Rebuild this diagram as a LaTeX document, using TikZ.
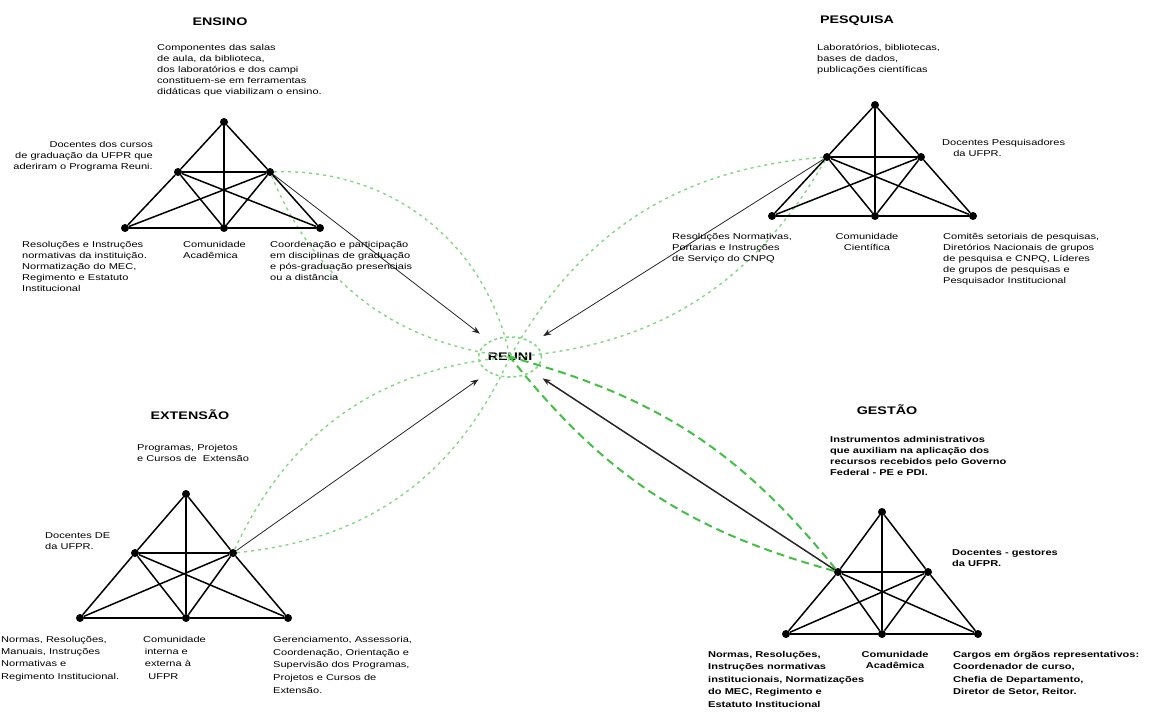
\documentclass[tikz,border=0pt]{standalone}
\usepackage{fontspec}
\newfontfamily\dgfont{Liberation Sans}[FakeStretch=1.3]
\usepackage{tikz}
\usetikzlibrary{arrows.meta,positioning,shapes.geometric}
\definecolor{lensgreen}{HTML}{80D880}
\definecolor{lensdark}{HTML}{44BE44}
\tikzset{
  vtx/.style={circle,fill=black,inner sep=0pt,minimum size=8pt},
  link/.style={line width=1.5pt,color=black},
  feed/.style={-{Stealth[length=8pt,width=6pt]},line width=0.8pt,color=black!85,shorten >=12pt},
  lens/.style={dash pattern=on 3pt off 4pt,line width=1.4pt,color=lensgreen},
  ttl/.style={font=\dgfont\bfseries\fontsize{11}{13}\selectfont,inner sep=0pt},
  lbl/.style={font=\dgfont\fontsize{8.5}{11}\selectfont,align=left,inner sep=0pt},
  blbl/.style={lbl,font=\dgfont\bfseries\fontsize{8.5}{11}\selectfont}}

\begin{document}
\begin{tikzpicture}[x=1pt,y=-1pt]
\useasboundingbox (0,0) rectangle (1149,712);

% ensino
\node[vtx] (en-ap) at (224,122) {};
\node[vtx] (en-lm) at (178,172) {};
\node[vtx] (en-rm) at (270,172) {};
\node[vtx] (en-bl) at (125,228) {};
\node[vtx] (en-bm) at (224,228) {};
\node[vtx] (en-br) at (320,228) {};
% pesquisa
\node[vtx] (pe-ap) at (875,105) {};
\node[vtx] (pe-lm) at (827,157) {};
\node[vtx] (pe-rm) at (921,157) {};
\node[vtx] (pe-bl) at (772,216) {};
\node[vtx] (pe-bm) at (875,216) {};
\node[vtx] (pe-br) at (973,216) {};
% extensao
\node[vtx] (ex-ap) at (186,494) {};
\node[vtx] (ex-lm) at (135,553) {};
\node[vtx] (ex-rm) at (233,553) {};
\node[vtx] (ex-bl) at (80,618) {};
\node[vtx] (ex-bm) at (186,618) {};
\node[vtx] (ex-br) at (288,618) {};
% gestao
\node[vtx] (ge-ap) at (882,512) {};
\node[vtx] (ge-lm) at (838,572) {};
\node[vtx] (ge-rm) at (928,572) {};
\node[vtx] (ge-bl) at (786,634) {};
\node[vtx] (ge-bm) at (882,634) {};
\node[vtx] (ge-br) at (978,634) {};

\node[ellipse,draw=lensgreen,dash pattern=on 3pt off 3pt,line width=1.6pt,minimum width=58pt,minimum height=40pt,inner sep=0pt,font=\dgfont\bfseries\fontsize{11}{13}\selectfont] (reuni) at (510,357) {REUNI};

% green lenses
\draw[lens] (en-rm) to[bend left=40] (reuni.center);
\draw[lens] (en-rm) to[bend right=30] (reuni.center);
\draw[lens] (pe-lm) to[bend left=28] (reuni.center);
\draw[lens] (pe-lm) to[bend right=28] (reuni.center);
\draw[lens] (ex-rm) to[bend left=30] (reuni.center);
\draw[lens] (ex-rm) to[bend right=30] (reuni.center);
\draw[lens,color=lensdark,line width=2pt,dash pattern=on 8pt off 5pt] (ge-lm) to[bend left=18] (reuni.center);
\draw[lens,color=lensdark,line width=2pt,dash pattern=on 8pt off 5pt] (ge-lm) to[bend right=18] (reuni.center);

% triangles
\foreach \t in {en,pe,ex,ge}
  \foreach \p/\q in {ap/lm,lm/bl,ap/rm,rm/br,ap/bm,bl/bm,bm/br,lm/rm,lm/bm,rm/bm,lm/br,rm/bl}
    \draw[link] (\t-\p) -- (\t-\q);

% arrows to reuni
\draw[feed] (en-rm) -- (reuni);
\draw[feed] (pe-lm) -- (reuni);
\draw[feed] (ex-rm) -- (reuni);
\draw[feed,line width=1.5pt] (ge-lm) -- (reuni);

% ensino texts
\node[ttl] (en-t) at (220,22) {ENSINO};
\node[lbl,anchor=north west] (en-top) at (157,44) {Componentes das salas\\de aula, da biblioteca,\\dos laboratórios e dos campi\\constituem-se em ferramentas\\didáticas que viabilizam o ensino.};
\node[lbl,align=right,anchor=north east] (en-lmt) at (153,141) {Docentes dos cursos\\de graduação da UFPR que\\aderiram o Programa Reuni.};
\node[lbl,anchor=north west] (en-blt) at (22,241) {Resoluções e Instruções\\normativas da instituição.\\Normatização do MEC,\\Regimento e Estatuto\\Institucional};
\node[lbl,anchor=north west] (en-bmt) at (183,241) {Comunidade\\Acadêmica};
\node[lbl,anchor=north west] (en-brt) at (270,241) {Coordenação e participação\\em disciplinas de graduação\\e pós-graduação presenciais\\ou a distância};

% pesquisa texts
\node[ttl] (pe-t) at (857,21) {PESQUISA};
\node[lbl,anchor=north west] (pe-top) at (817,44) {Laboratórios, bibliotecas,\\bases de dados,\\publicações científicas};
\node[lbl,anchor=north west] (pe-rmt) at (942,139) {Docentes Pesquisadores\\\hspace*{1.3em}da UFPR.};
\node[lbl,anchor=north west] (pe-blt) at (672,233) {Resoluções Normativas,\\Portarias e Instruções\\de Serviço do CNPQ};
\node[lbl,align=center,anchor=north] (pe-bmt) at (867,233) {Comunidade\\Científica};
\node[lbl,anchor=north west] (pe-brt) at (943,233) {Comitês setoriais de pesquisas,\\Diretórios Nacionais de grupos\\de pesquisa e CNPQ, Líderes\\de grupos de pesquisas e\\Pesquisador Institucional};

% extensao texts
\node[ttl] (ex-t) at (190,415) {EXTENSÃO};
\node[lbl,anchor=north west] (ex-top) at (137,444) {Programas, Projetos\\e Cursos de~ Extensão};
\node[lbl,anchor=north west] (ex-lmt) at (45,532) {Docentes DE\\da UFPR.};
\node[lbl,anchor=north west,font=\dgfont\fontsize{8.5}{12.3}\selectfont] (ex-blt) at (1,636) {Normas, Resoluções,\\Manuais, Instruções\\Normativas e\\Regimento Institucional.};
\node[lbl,anchor=north west,font=\dgfont\fontsize{8.5}{12.3}\selectfont] (ex-bmt) at (143,636) {Comunidade\\\hspace*{0.2em}interna e\\\hspace*{0.2em}externa à\\\hspace*{0.6em}UFPR};
\node[lbl,anchor=north west,font=\dgfont\fontsize{8.5}{12.8}\selectfont] (ex-brt) at (273,636) {Gerenciamento, Assessoria,\\Coordenação, Orientação e\\Supervisão dos Programas,\\Projetos e Cursos de\\Extensão.};

% gestao texts
\node[ttl] (ge-t) at (887,410) {GESTÃO};
\node[blbl,anchor=north west] (ge-top) at (830,436) {Instrumentos administrativos\\que auxiliam na aplicação dos\\recursos recebidos pelo Governo\\Federal - PE e PDI.};
\node[blbl,anchor=north west] (ge-rmt) at (952,549) {Docentes - gestores\\da UFPR.};
\node[blbl,anchor=north west,font=\dgfont\bfseries\fontsize{8.5}{12.5}\selectfont] (ge-blt) at (708,651) {Normas, Resoluções,\\Instruções normativas\\institucionais, Normatizações\\do MEC, Regimento e\\Estatuto Institucional};
\node[blbl,align=center,anchor=north] (ge-bmt) at (895,651) {Comunidade\\Acadêmica};
\node[blbl,anchor=north west,font=\dgfont\bfseries\fontsize{8.5}{12.5}\selectfont] (ge-brt) at (953,651) {Cargos em órgãos representativos:\\Coordenador de curso,\\Chefia de Departamento,\\Diretor de Setor, Reitor.};
\end{tikzpicture}
\end{document}
